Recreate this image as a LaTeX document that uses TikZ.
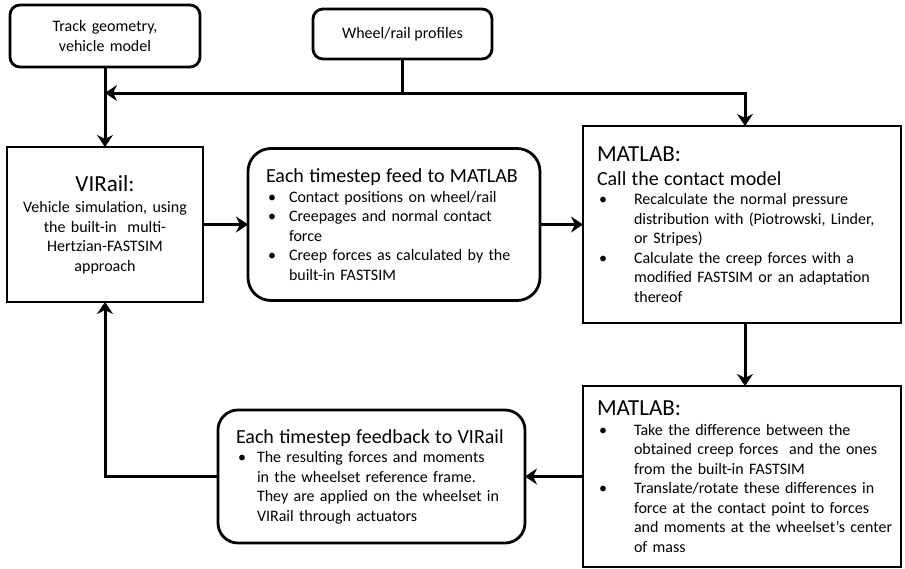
\documentclass[tikz,border=0pt]{standalone}
\usepackage{fontspec}
\setmainfont{Carlito}
\usetikzlibrary{arrows.meta, positioning}

\newcommand{\txtbody}{\fontsize{16}{19.5}\selectfont}
\newcommand{\txthead}{\fontsize{20}{24}\selectfont}
\newcommand{\txtbig}{\fontsize{23}{26}\selectfont}

\newenvironment{dotlist}[1]{%
  \begin{list}{\textbullet}{%
    \setlength{\leftmargin}{#1}\setlength{\labelwidth}{#1}%
    \setlength{\labelsep}{0pt}\setlength{\itemsep}{0pt}%
    \setlength{\parsep}{0pt}\setlength{\topsep}{0pt}%
    \setlength{\partopsep}{0pt}%
    \renewcommand{\makelabel}[1]{\hspace{2pt}##1\hfil}}}%
  {\end{list}}

\tikzset{
  roundbox/.style = {rectangle, rounded corners=16pt, draw=black, line width=2.8pt, outer sep=0pt, inner xsep=18pt, inner ysep=0pt},
  squarebox/.style = {rectangle, draw=black, line width=2.8pt, outer sep=0pt, inner xsep=14pt, inner ysep=0pt},
  link/.style = {line width=3pt},
  arrow/.style = {line width=3pt, -{Stealth[length=12pt,width=16pt,inset=4pt]}},
}

\begin{document}
\begin{tikzpicture}[x=1pt, y=-1pt, every node/.style={font=\txtbody}]
    \useasboundingbox (0,0) rectangle (905,568);

    \node (virail) [squarebox, align=center, text width=168pt, minimum width=196pt, minimum height=155pt] at (105,224.5)
        {{\txtbig VIRail:}\\[2pt] Vehicle simulation, using\\ the built-in\ \ multi-\\ Hertzian-FASTSIM\\ approach};
    \node (track) [roundbox, rounded corners=10pt, align=center, text width=170pt, inner xsep=10pt, minimum height=62pt, above=80pt of virail]
        {Track geometry,\\ vehicle model};
    \node (wheel) [roundbox, rounded corners=10pt, align=center, minimum width=179pt, minimum height=50pt] at (402.5,34)
        {Wheel/rail profiles};

    \node (feed) [roundbox, rounded corners=23pt, text width=256pt, minimum height=152pt, right=45pt of virail]
        {{\txthead\mbox{Each timestep feed to MATLAB}\par}
        \begin{dotlist}{23pt}
            \item Contact positions on wheel/rail
            \item Creepages and normal contact\\ force
            \item Creep forces as calculated by the\\ built-in FASTSIM
        \end{dotlist}};

    \node (matlabA) [squarebox, text width=290pt, minimum height=197pt, right=43pt of feed]
        {{\txtbig MATLAB:\par}
        {\txthead\mbox{Call the contact model}\par}
        \begin{dotlist}{37pt}
            \item Recalculate the normal pressure\\ distribution with (Piotrowski, Linder,\\ or Stripes)
            \item Calculate the creep forces with a\\ modified FASTSIM or an adaptation\\ thereof
        \end{dotlist}};

    \node (matlabB) [squarebox, text width=290pt, minimum height=181pt, below=63pt of matlabA]
        {{\txtbig MATLAB:\par}
        \begin{dotlist}{37pt}
            \item Take the difference between the\\ obtained creep forces\ \ and the ones\\ from the built-in FASTSIM
            \item Translate/rotate these differences in\\ force at the contact point to forces\\ \mbox{and moments at the wheelset’s center}\\ of mass
        \end{dotlist}};

    \node (feedback) [roundbox, rounded corners=20pt, text width=271pt, minimum height=133pt, left=58pt of matlabB]
        {{\txthead\mbox{Each timestep feedback to VIRail}\par}
        \begin{dotlist}{21pt}
            \item The resulting forces and moments\\ in the wheelset reference frame.\\ They are applied on the wheelset in\\ VIRail through actuators
        \end{dotlist}};

    \coordinate (bus) at (402.5,93);

    \draw [link] (wheel) -- (bus);
    \draw [arrow] (bus) -- (bus -| virail.north);
    \draw [arrow] (bus) -| ([xshift=3pt]matlabA.north);
    \draw [arrow] (track) -- (virail);
    \draw [arrow] (virail.east) -- (virail.east -| feed.west);
    \draw [arrow] (feed.east) -- (feed.east -| matlabA.west);
    \draw [arrow] ([xshift=3pt]matlabA.south) -- ([xshift=3pt]matlabA.south |- matlabB.north);
    \draw [arrow] (matlabB.west) -- (matlabB.west -| feedback.east);
    \draw [arrow] (feedback.west) -| (virail.south);
\end{tikzpicture}
\end{document}
